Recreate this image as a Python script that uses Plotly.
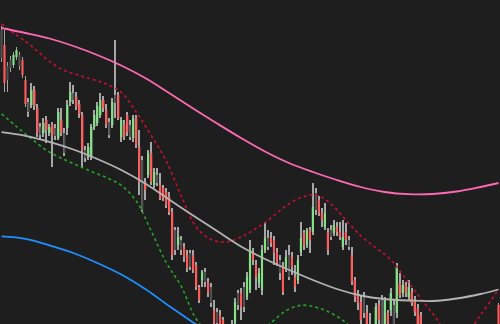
import plotly.graph_objects as go

# ---- candle data (price units) ----
body_kind = list(
    "nrnnggnrrn" "grrngrgrng" "rnggnrrrng" "ggggrrngnr" "grrngrrnrg"
    "rgnrrrrrng" "nrrnrrrgnr" "nrnrrrnggn" "rnggrrgggn" "rrrnrgnrrg"
    "grgrgnrrgr" "ngrrgrnrrr" "rnrrngrngr" "gngrgrgrrr" "rrgrrngrrg"
    "nrgrggrggn" "grggrgr"
)
open_ = [266,279,258,264,259,267,269,264,244,222, 219,234,216,197,191,204,191,199,196,186,
         204,191,196,222,231,227,220,209,174,167, 167,197,201,209,224,214,202,199,229,229,
         187,199,209,199,186,206,177,164,142,149, 171,139,149,139,136,132,127,112,94,79,
         84,77,69,71,69,59,37,44,52,42, 37,14,12,9,4,-6,-11,-16,1,31,
         31,37,27,34,72,59,41,34,74,86, 86,84,72,64,57,57,69,67,47,44,
         72,91,79,94,92,131,124,111,97,92, 94,91,97,92,77,92,84,69,44,29,
         22,27,11,-6,-11,-6,19,24,-6,11, 14,19,11,41,31,39,27,32,24,16,
         9,-12,-28,-18,-34,-44,-55,-42,-57,-70, -60,-68,-82,-70,-78,-64,-56,-66,-50,-42,
         -50,-36,-44,-30,-22,-30,19]
high = [298,294,262,268,272,277,272,267,248,226, 241,238,220,201,206,208,200,202,200,216,
        216,196,224,242,239,232,224,212,178,181, 200,214,222,231,228,220,206,226,284,232,
        207,204,212,204,209,209,194,168,146,174, 182,156,156,151,139,136,132,116,97,97,
        88,81,74,74,74,62,39,54,56,46, 41,24,16,14,7,-2,-6,4,26,34,
        36,42,52,84,76,64,56,79,101,94, 92,88,76,69,62,74,79,72,59,69,
        102,94,96,97,141,136,128,116,121,96, 99,104,102,102,104,101,88,77,47,34,
        29,32,19,11,-1,21,24,29,27,14, 36,24,61,51,44,42,44,36,28,20,
        12,-8,-14,-15,-30,-40,-38,-38,-52,-55, -56,-64,-66,-66,-60,-50,-52,-46,-38,-38,
        -32,-32,-26,-18,-18,-6,21]
low = [262,232,232,252,256,264,254,246,217,207, 216,214,187,184,187,181,188,157,184,184,
       188,168,189,218,220,214,206,157,162,164, 164,194,198,206,212,196,186,196,206,204,
       182,184,188,184,182,176,129,112,124,146, 139,136,138,124,123,116,109,64,69,74,
       69,62,52,54,51,34,21,37,37,27, 17,-4,-6,-11,-18,-26,-26,-21,-6,14,
       4,12,24,31,59,34,36,29,71,74, 77,59,58,44,29,52,44,49,32,40,
       68,74,76,71,89,109,108,97,94,69, 84,88,88,84,74,79,74,39,22,14,
       -1,6,-11,-26,-28,-11,-6,-6,-11,-6, 8,-6,6,26,27,27,24,18,8,-11,
       -16,-30,-32,-40,-50,-58,-60,-62,-72,-75, -76,-85,-86,-84,-82,-68,-70,-70,-54,-55,
       -54,-48,-48,-34,-34,-34,-22]
close = [294,241,244,256,269,274,258,249,220,212, 234,218,191,189,201,194,197,189,188,212,
         191,171,219,232,224,217,210,174,166,177, 197,209,218,224,216,199,189,222,221,206,
         204,187,192,187,206,179,142,114,134,171, 142,152,141,126,126,119,112,69,74,87,
         74,67,56,57,54,37,24,52,42,31, 21,1,1,-6,-14,-21,-21,-4,22,19,
         17,17,47,74,64,47,51,74,86,77, 81,71,61,51,32,67,47,57,37,64,
         86,79,94,84,117,114,111,104,111,74, 87,99,92,87,87,84,77,42,27,21,
         4,11,-6,-21,-21,17,4,0,24,1, 31,0,57,29,39,31,37,21,12,-6,
         -11,-25,-18,-35,-45,-52,-42,-58,-68,-60, -70,-80,-70,-78,-64,-55,-66,-50,-42,-50,
         -36,-44,-30,-22,-30,-10,-16]

# ---- indicator lines (sampled at candle indices) ----
ma_idx = [0, 8, 16, 24, 32, 40, 48, 56, 64, 72, 80, 88, 96, 104, 112, 120, 128, 136, 144, 152, 160, 166]
env_upper = [296, 291, 285.5, 278, 269, 258.5, 246, 231, 215.5, 200.5, 186, 172.5, 161, 152, 144, 137, 132, 129.8, 130, 132.5, 137, 141]
ma_mid = [191.8, 188.1, 182.1, 174.5, 165, 154, 140.5, 124.5, 108.5, 93, 77.5, 65, 54.2, 44, 35, 28.5, 25, 23.5, 23, 25.5, 30, 34.5]
env_lower = [87.6, 85.2, 78.7, 71, 61, 49.5, 35, 18, 1.5, -14.5, -31, -42.5, -52.6, -64, -74, -80, -82, -82.8, -84, -81.5, -77, -72]

band_idx = [0, 5, 10, 15, 20, 25, 30, 35, 40, 45, 50, 55, 60, 65, 70, 75, 80, 85, 90, 95, 100,
            105, 110, 115, 120, 125, 130, 135, 140, 145, 150, 155, 160, 165, 166]
bb_upper = [300, 289, 278, 265, 255, 249.4, 245, 240, 231.6, 212, 188.5, 163, 128.4, 97, 84.5, 82, 87, 95.5, 106, 118, 126.5,
            129, 120.3, 104, 88.2, 76.3, 64.4, 45.1, 25.7, 6.6, -13.5, -10, 9, 30, 34.3]
bb_lower = [210.2, 197.5, 185.2, 173.7, 165.8, 159, 152.5, 146.5, 138.7, 123, 93, 61.6, 37.8, 5.3, -10.7, -15, -16, -10, 1.2, 13.2, 18.7,
            16.7, 11, 1.3, -16, -31, -44, -61, -81, -101, -111, -116, -108, -96, -94]

BG = "#1e1e1e"
kind_color = {"g": "#84e284", "r": "#ff5a5a", "n": "#505050"}

n = len(open_)
idx = list(range(n))
base = [min(o, c) for o, c in zip(open_, close)]
length = [max(abs(c - o), 1.5) for o, c in zip(open_, close)]
colors = [kind_color[k] for k in body_kind]
wick_len = [h - l for h, l in zip(high, low)]

fig = go.Figure()
# wicks (as thin bars so the bodies can sit on top of them)
fig.add_trace(go.Bar(x=idx, y=wick_len, base=low, width=0.3,
                     marker=dict(color="#a6a6a6", line=dict(width=0)), hoverinfo="skip"))
# bodies
fig.add_trace(go.Bar(x=idx, y=length, base=base, width=0.72,
                     marker=dict(color=colors, line=dict(width=0))))

fig.add_trace(go.Scatter(x=band_idx, y=bb_upper, mode="lines", line_shape="spline",
                         line=dict(color="#c8102e", width=1.6, dash="dot")))
fig.add_trace(go.Scatter(x=band_idx, y=bb_lower, mode="lines", line_shape="spline",
                         line=dict(color="#22a822", width=1.6, dash="dot")))
fig.add_trace(go.Scatter(x=ma_idx, y=env_upper, mode="lines", line_shape="spline",
                         line=dict(color="#ff69b4", width=1.8)))
fig.add_trace(go.Scatter(x=ma_idx, y=ma_mid, mode="lines", line_shape="spline",
                         line=dict(color="#b4b4b4", width=1.8)))
fig.add_trace(go.Scatter(x=ma_idx, y=env_lower, mode="lines", line_shape="spline",
                         line=dict(color="#1e90ff", width=1.8)))

fig.update_layout(
    width=500, height=324,
    margin=dict(l=0, r=0, t=0, b=0),
    paper_bgcolor=BG, plot_bgcolor=BG,
    showlegend=False,
    xaxis=dict(range=[-0.5, n - 0.5], visible=False, fixedrange=True),
    yaxis=dict(range=[0, 324], visible=False, fixedrange=True),
    barmode="overlay",
)

fig.write_html("out.html", config={"displayModeBar": False})
